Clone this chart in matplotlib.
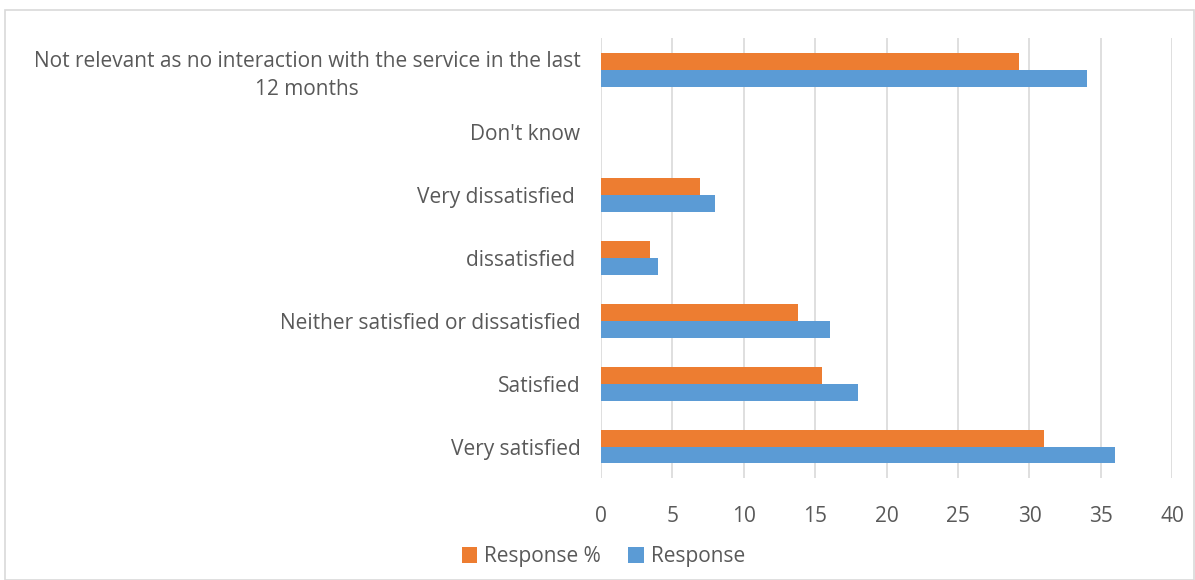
import matplotlib.pyplot as plt
import numpy as np

plt.rcParams['font.family'] = ['Open Sans', 'DejaVu Sans']

categories = ["Very satisfied", "Satisfied", "Neither satisfied or dissatisfied",
              "dissatisfied ", "Very dissatisfied ", "Don't know",
              "Not relevant as no interaction with the service in the last\n12 months"]
response = [36, 18, 16, 4, 8, 0, 34]
response_pct = [31.0, 15.5, 13.8, 3.4, 6.9, 0, 29.3]

fig = plt.figure(figsize=(11.95, 5.8), dpi=100)
ax = fig.add_axes([0.503, 0.176, 0.478, 0.758])

y = np.arange(len(categories))
h = 0.27
ax.barh(y - h / 2, response, height=h, color='#5B9BD5', label='Response', zorder=3)
ax.barh(y + h / 2, response_pct, height=h, color='#ED7D31', label='Response %', zorder=3)

ax.set_xlim(0, 40)
ax.set_ylim(-0.5, len(categories) - 0.5)
ax.set_xticks(np.arange(0, 41, 5))
ax.set_yticks(y)
ax.set_yticklabels(categories)
for lab in ax.get_yticklabels():
    lab.set_multialignment('center')
    lab.set_linespacing(1.45)
ax.grid(axis='x', color='#D9D9D9', linewidth=1.2, zorder=0)
for s in ax.spines.values():
    s.set_visible(False)
ax.tick_params(axis='both', length=0, labelsize=15, colors='#595959')
ax.tick_params(axis='y', pad=15)
ax.tick_params(axis='x', pad=20)

handles, labels = ax.get_legend_handles_labels()
fig.legend(handles[::-1], labels[::-1], loc='center', bbox_to_anchor=(0.505, 0.04),
           ncol=2, frameon=False, fontsize=15, labelcolor='#595959',
           handlelength=0.75, handleheight=0.75, handletextpad=0.35, columnspacing=1.3)

border = plt.Rectangle((0.004, 0.0), 0.995, 0.983, transform=fig.transFigure,
                       fill=False, edgecolor='#D9D9D9', linewidth=1.2)
fig.patches.append(border)

fig.savefig('out.png', dpi=100)
